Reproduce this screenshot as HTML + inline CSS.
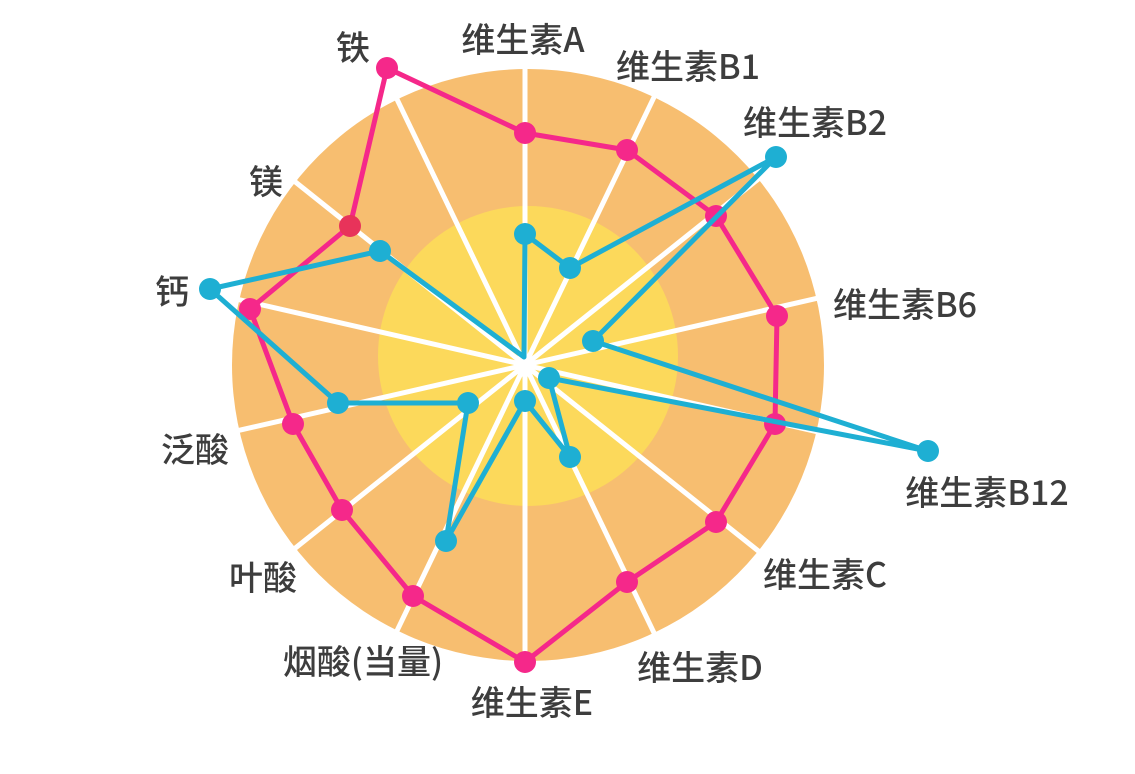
<!DOCTYPE html>
<html><head><meta charset="utf-8"><style>
html,body{margin:0;padding:0;background:#fff;}
svg text{font-family:"Noto Sans CJK SC","Liberation Sans",sans-serif;font-size:34px;font-weight:500;fill:#3d3d3d;text-anchor:middle;}
</style></head><body>
<svg width="1135" height="769" viewBox="0 0 1135 769" xmlns="http://www.w3.org/2000/svg">
<circle cx="528" cy="365" r="296" fill="#F7BE70"/>
<circle cx="528" cy="356" r="150" fill="#FCD95B"/>
<g stroke="#fff" stroke-width="5">
<line x1="525" y1="365" x2="525.0" y2="65.0"/>
<line x1="525" y1="365" x2="655.2" y2="94.7"/>
<line x1="525" y1="365" x2="759.6" y2="178.0"/>
<line x1="525" y1="365" x2="817.5" y2="298.2"/>
<line x1="525" y1="365" x2="817.5" y2="431.8"/>
<line x1="525" y1="365" x2="759.6" y2="552.0"/>
<line x1="525" y1="365" x2="655.2" y2="635.3"/>
<line x1="525" y1="365" x2="525.0" y2="665.0"/>
<line x1="525" y1="365" x2="394.8" y2="635.3"/>
<line x1="525" y1="365" x2="290.4" y2="552.0"/>
<line x1="525" y1="365" x2="232.5" y2="431.8"/>
<line x1="525" y1="365" x2="232.5" y2="298.2"/>
<line x1="525" y1="365" x2="290.4" y2="178.0"/>
<line x1="525" y1="365" x2="394.8" y2="94.7"/>
</g>
<circle cx="525" cy="367" r="10" fill="#fff"/>
<polygon points="525,133 627,150 716,216 777,316 775,424 716,522 627,582 525,662 413,596 342,510 293,424 250,309 350,226 387,68" fill="none" stroke="#F5288A" stroke-width="5" stroke-linejoin="round"/>
<g fill="#F5288A">
<circle cx="525" cy="133" r="11"/><circle cx="627" cy="150" r="11"/><circle cx="716" cy="216" r="11"/><circle cx="777" cy="316" r="11"/><circle cx="775" cy="424" r="11"/><circle cx="716" cy="522" r="11"/><circle cx="627" cy="582" r="11"/><circle cx="525" cy="662" r="11"/><circle cx="413" cy="596" r="11"/><circle cx="342" cy="510" r="11"/><circle cx="293" cy="424" r="11"/><circle cx="250" cy="309" r="11"/><circle cx="387" cy="68" r="11"/>
</g>
<circle cx="350" cy="226" r="11" fill="#E8335A"/>
<polygon points="210,289 380,251 524,357 525,234 570,268 776,157 593,341 928,451 549,378 570,457 525,401 446,541 468,403 338,403" fill="none" stroke="#1EAFD3" stroke-width="5" stroke-linejoin="round"/>
<g fill="#1EAFD3">
<circle cx="210" cy="289" r="11"/><circle cx="380" cy="251" r="11"/><circle cx="525" cy="234" r="11"/><circle cx="570" cy="268" r="11"/><circle cx="776" cy="157" r="11"/><circle cx="593" cy="341" r="11"/><circle cx="928" cy="451" r="11"/><circle cx="549" cy="378" r="11"/><circle cx="570" cy="457" r="11"/><circle cx="525" cy="401" r="11"/><circle cx="446" cy="541" r="11"/><circle cx="468" cy="403" r="11"/><circle cx="338" cy="403" r="11"/>
</g>
<text x="523" y="52">维生素A</text>
<text x="688" y="79">维生素B1</text>
<text x="815" y="135">维生素B2</text>
<text x="905" y="317">维生素B6</text>
<text x="987" y="505">维生素B12</text>
<text x="825" y="587">维生素C</text>
<text x="700" y="680">维生素D</text>
<text x="532" y="715">维生素E</text>
<text x="363" y="674">烟酸(当量)</text>
<text x="263" y="590">叶酸</text>
<text x="195" y="462">泛酸</text>
<text x="172" y="304">钙</text>
<text x="266" y="194">镁</text>
<text x="353" y="60">铁</text>
</svg>
</body></html>
